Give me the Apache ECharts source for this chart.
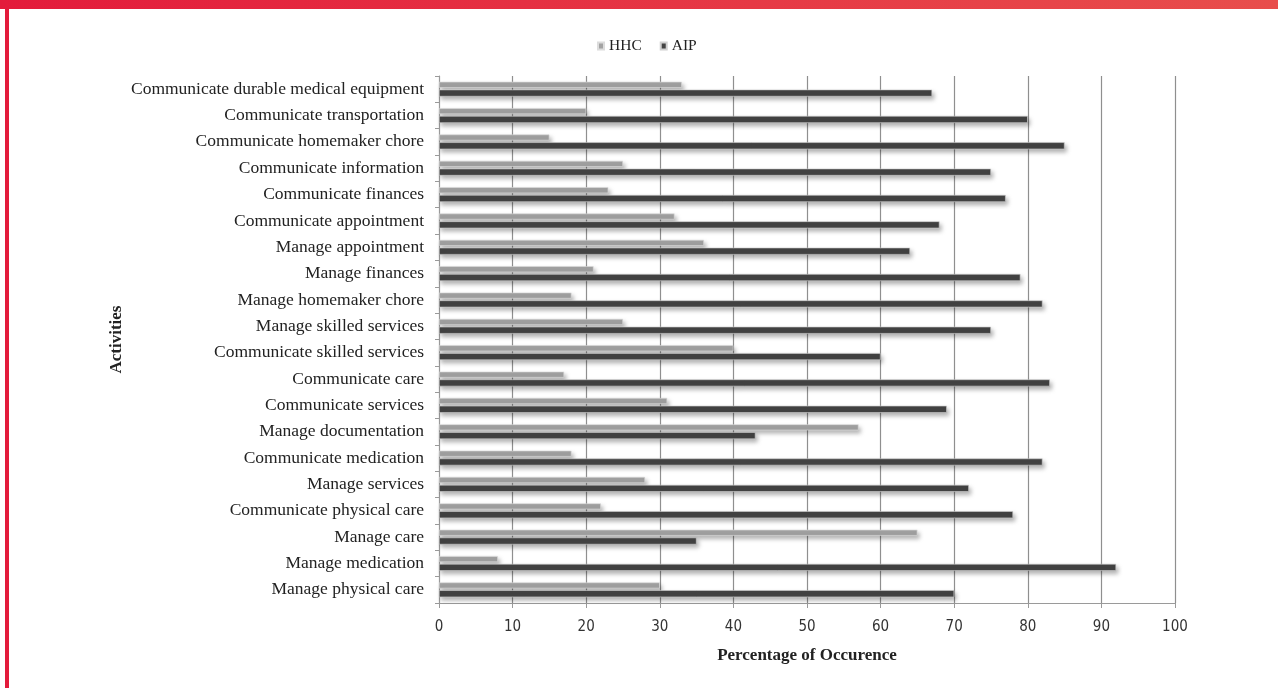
<!DOCTYPE html>
<html>
<head>
<meta charset="utf-8">
<script src="https://cdn.jsdelivr.net/npm/echarts@6/dist/echarts.min.js"></script>
<style>
html,body{margin:0;padding:0;background:#fff;}
#chart{width:1278px;height:688px;}
</style>
</head>
<body>
<div id="chart"></div>
<script>
const categories = [
  "Communicate durable medical equipment",
  "Communicate transportation",
  "Communicate homemaker chore",
  "Communicate information",
  "Communicate finances",
  "Communicate appointment",
  "Manage appointment",
  "Manage finances",
  "Manage homemaker chore",
  "Manage skilled services",
  "Communicate skilled services",
  "Communicate care",
  "Communicate services",
  "Manage documentation",
  "Communicate medication",
  "Manage services",
  "Communicate physical care",
  "Manage care",
  "Manage medication",
  "Manage physical care"
];
const hhcValues = [33, 20, 15, 25, 23, 32, 36, 21, 18, 25, 40, 17, 31, 57, 18, 28, 22, 65, 8, 30];
const aipValues = [67, 80, 85, 75, 77, 68, 64, 79, 82, 75, 60, 83, 69, 43, 82, 72, 78, 35, 92, 70];
const xTicks = [0, 10, 20, 30, 40, 50, 60, 70, 80, 90, 100];

const serif = '"Liberation Serif", "DejaVu Serif", serif';
const narrow = '"Liberation Sans Narrow", "DejaVu Sans Condensed", "Liberation Sans", sans-serif';

const chart = echarts.init(document.getElementById('chart'), null, {renderer: 'canvas'});
const shadow = {shadowColor: 'rgba(0,0,0,0.3)', shadowBlur: 4, shadowOffsetX: 2, shadowOffsetY: 3};

chart.setOption({
  animation: false,
  backgroundColor: '#ffffff',
  graphic: [
    {type: 'rect', left: 0, top: 0, shape: {width: 1278, height: 9},
     style: {fill: new echarts.graphic.LinearGradient(0, 0, 1, 0, [{offset: 0, color: '#e31b3b'}, {offset: 1, color: '#e84e4c'}])}},
    {type: 'rect', left: 5, top: 9, shape: {width: 4, height: 679}, style: {fill: '#e31b3b'}}
  ],
  legend: {
    data: ['HHC', 'AIP'],
    top: 33,
    left: 592,
    itemWidth: 6,
    itemHeight: 7,
    itemGap: 18,
    icon: 'rect',
    textStyle: {fontFamily: serif, fontSize: 15.5, color: '#222', padding: [0, 0, 0, 0]}
  },
  grid: {left: 439, right: 103, top: 76, bottom: 85, containLabel: false},
  xAxis: {
    type: 'value',
    min: 0, max: 100, interval: 10,
    name: 'Percentage of Occurence',
    nameLocation: 'middle',
    nameGap: 44,
    nameMoveOverlap: false,
    nameTextStyle: {fontFamily: serif, fontSize: 17, fontWeight: 'bold', color: '#222'},
    axisLine: {show: true, lineStyle: {color: '#9a9a9a', width: 1}},
    axisTick: {show: true, length: 5, lineStyle: {color: '#9a9a9a'}},
    axisLabel: {fontFamily: narrow, fontSize: 15, color: '#333', margin: 17,
      formatter: v => xTicks.indexOf(v) >= 0 ? String(v) : ''},
    splitLine: {show: true, lineStyle: {color: '#8f8f8f', width: 1.2}}
  },
  yAxis: {
    type: 'category',
    inverse: true,
    data: categories,
    name: 'Activities',
    nameLocation: 'middle',
    nameGap: 314,
    nameMoveOverlap: false,
    nameTextStyle: {fontFamily: serif, fontSize: 17, fontWeight: 'bold', color: '#222'},
    axisLine: {show: true, lineStyle: {color: '#9a9a9a', width: 1}},
    axisTick: {show: true, length: 4, inside: false, lineStyle: {color: '#9a9a9a'}},
    axisLabel: {fontFamily: serif, fontSize: 17.5, color: '#222', margin: 15, padding: [3, 0, 0, 0]},
    splitLine: {show: false}
  },
  series: [
    {name: 'HHC', type: 'bar', data: hhcValues, barWidth: 6, barGap: '30%',
     itemStyle: Object.assign({color: '#a3a3a3', borderColor: '#dcdcdc', borderWidth: 0.6}, shadow)},
    {name: 'AIP', type: 'bar', data: aipValues, barWidth: 7,
     itemStyle: Object.assign({color: '#434343', borderColor: '#d0d0d0', borderWidth: 0.6}, shadow)}
  ]
});
</script>
</body>
</html>
